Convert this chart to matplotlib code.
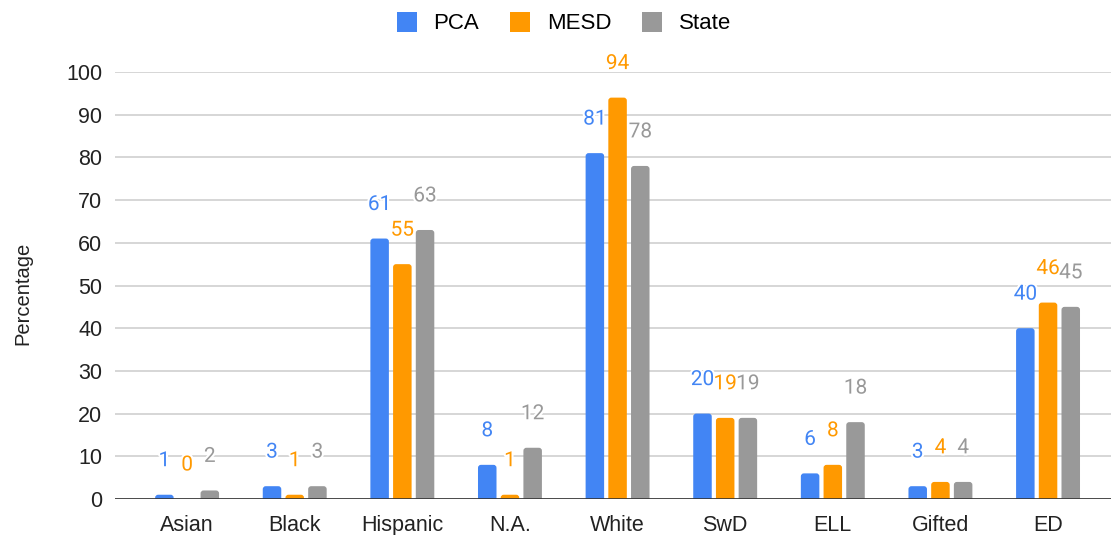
import matplotlib.pyplot as plt
import matplotlib.patheffects as pe
from matplotlib.patches import FancyBboxPatch, Patch
import numpy as np

# Student group percentages
categories = ["Asian", "Black", "Hispanic", "N.A.", "White", "SwD", "ELL", "Gifted", "ED"]
pca = [1, 3, 61, 8, 81, 20, 6, 3, 40]
mesd = [0, 1, 55, 1, 94, 19, 8, 4, 46]
state = [2, 3, 63, 12, 78, 19, 18, 4, 45]

series = [("PCA", pca, "#4285F4"), ("MESD", mesd, "#FF9900"), ("State", state, "#999999")]

plt.rcParams["font.family"] = ["Liberation Sans", "DejaVu Sans"]

fig = plt.figure(figsize=(11.11, 5.35), dpi=100)
ax = fig.add_axes([115 / 1111, 36 / 535, 996 / 1111, 427 / 535])

x = np.arange(len(categories))
bar_width = 0.172
step = 0.211
xlim = (-0.67, 8.585)
ylim = (0, 100)

# corner radius of ~3 px, converted to data units for each axis
px_x = (xlim[1] - xlim[0]) / 996
px_y = (ylim[1] - ylim[0]) / 427
radius = 3 * px_x
aspect = px_y / px_x

handles = []
for i, (name, vals, color) in enumerate(series):
    pos = x + (i - 1) * step
    bars = ax.bar(pos, vals, bar_width, color=color, zorder=3)
    for rect in bars:
        rect.set_visible(False)
        if rect.get_height() <= 0:
            continue
        # start below the baseline so only the top corners show as rounded
        y0 = -2
        patch = FancyBboxPatch((rect.get_x(), y0), rect.get_width(), rect.get_height() - y0,
                               boxstyle=f"round,pad=0,rounding_size={radius}",
                               mutation_aspect=aspect, facecolor=color,
                               edgecolor="none", zorder=3)
        ax.add_patch(patch)
    for xp, v in zip(pos, vals):
        ax.annotate(str(v), (xp, v), xytext=(0, 24.5), textcoords="offset points",
                    ha="center", va="center", color=color, fontsize=15,
                    family=["Roboto", "DejaVu Sans"], zorder=5,
                    annotation_clip=False,
                    path_effects=[pe.withStroke(linewidth=3, foreground="white")])
    handles.append(Patch(facecolor=color, edgecolor="none", label=name))

ax.set_xlim(*xlim)
ax.set_ylim(*ylim)
ax.set_yticks(np.arange(0, 101, 10))
ax.set_xticks(x)
ax.set_xticklabels(categories)
ax.tick_params(axis="both", length=0, labelsize=15.5, colors="#222222")
ax.tick_params(axis="y", pad=9)
ax.tick_params(axis="x", pad=11.5)
ax.grid(axis="y", color="#cccccc", linewidth=1.1, zorder=0)
ax.axhline(0, color="#333333", linewidth=1.2, zorder=4)
for s in ax.spines.values():
    s.set_visible(False)

fig.text(23 / 1111, 1 - 293 / 535, "Percentage", rotation=90, ha="center", va="center",
         fontsize=14.5, color="#222222")

fig.legend(handles=handles, loc="center", bbox_to_anchor=(564 / 1111, 1 - 23 / 535), ncol=3,
           frameon=False, fontsize=16, handlelength=0.9, handleheight=1.0,
           handletextpad=0.75, columnspacing=1.4, borderpad=0)

fig.savefig("out.png", dpi=100)
